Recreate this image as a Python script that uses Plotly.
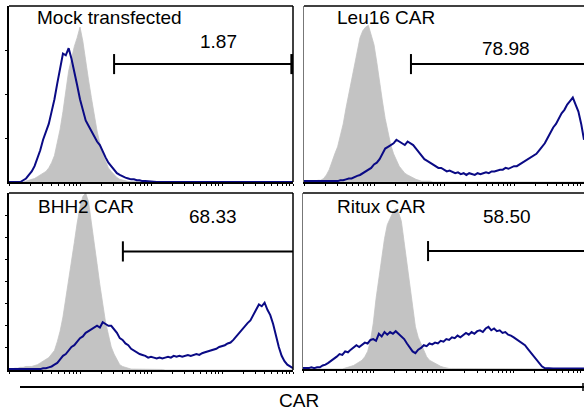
import math
import plotly.graph_objects as go

# ---------------- data (x = channel position in % of axis, y = % of max) -------------
x_pos = list(range(0, 101))

panel_titles = ["Mock transfected", "Leu16 CAR", "BHH2 CAR", "Ritux CAR"]
gate_values = ["1.87", "78.98", "68.33", "58.50"]
gate_start = [37, 38.2, 40.1, 44.5]

control_mock = [0, 0, 0, 0, 0, 0, 0.5, 1, 1.5, 2,
                3, 4, 5, 6, 8, 11, 15, 22, 30, 40,
                52, 63, 70, 77, 82, 88, 80, 68, 58, 48,
                38, 29, 22, 16, 12, 8, 6, 4, 2.5, 1.5,
                1, 0.5, 0.3, 0.3, 0.3, 0.3, 0.3, 0, 0, 0] + [0] * 51
car_mock = [0, 0, 0, 0, 0, 1, 2, 4, 6, 9,
            13, 18, 24, 28, 33, 40, 47, 56, 64, 73,
            72, 76, 70, 63, 55, 47, 41, 35, 32, 29,
            26, 23, 21, 17, 14, 11, 9, 7, 5, 4,
            3, 2.5, 2, 1.5, 1.5, 1, 1, 0.5, 0.5, 0.3,
            0.3] + [0] * 50

control_leu16 = [0, 0, 0.5, 0.5, 0.5, 1, 1, 2, 4, 7,
                 12, 16, 20, 27, 33, 42, 50, 58, 66, 74,
                 82, 86, 88, 89, 84, 78, 68, 56, 46, 36,
                 28, 21, 16, 12, 9, 7, 5, 4, 3, 2,
                 1.5, 1, 0.5, 0.5, 0.5, 0.5, 0, 0, 0, 0] + [0] * 51
car_leu16 = [0.5, 0.5, 0.5, 0.5, 0.5, 0.5, 0.5, 0.5, 0.5, 0.5,
             0.5, 0.5, 0.5, 1, 1, 1.5, 2, 2, 3, 3.5,
             4, 5, 6, 7, 8, 10, 11, 13, 16, 19,
             20, 21, 22, 24, 23, 22, 21, 23, 22, 21,
             19, 17, 15, 13, 12, 11, 10, 9, 8, 8,
             7, 6, 6.5, 5.5, 5, 5.5, 4.5, 5, 4, 5,
             4.5, 4, 5, 4.5, 5, 5.5, 5, 6, 6, 6.5,
             7, 7, 8, 7.5, 8.5, 9, 9, 10, 11, 12,
             13, 14, 15, 16, 18, 20, 22, 25, 28, 31,
             33, 36, 39, 41, 44, 46, 48, 44, 40, 33, 24]

control_bhh2 = [0, 0, 1, 1, 1.5, 1.5, 2, 2, 2, 2.5,
                3, 4, 5, 6, 7, 9, 11, 16, 22, 30,
                40, 50, 60, 72, 83, 92, 98, 100, 95, 84,
                72, 60, 48, 36, 27, 20, 13, 9, 6, 3,
                2, 1.5, 1, 0.5, 0.5, 0.5, 0.5, 0.5, 0.5, 0.5,
                0.5, 0.3, 0.3, 0.3, 0.3, 0, 0, 0, 0, 0] + [0] * 41
car_bhh2 = [0.5, 0.5, 0.5, 0.5, 0.5, 0.5, 0.5, 0.5, 0.5, 0.5,
            0.5, 0.5, 1, 1, 1.5, 2, 3, 4, 6, 8,
            9, 11, 13, 14, 16, 18, 19, 21, 22, 23,
            24, 25, 24, 27, 26, 25, 25, 23, 21, 18,
            17, 15, 14, 12, 11, 10, 9, 8.5, 8, 7,
            7.5, 7, 6.5, 7, 6.5, 7, 7.5, 7, 8, 7.5,
            8, 7.5, 8, 8.5, 8, 8.5, 9, 8.5, 9.5, 10,
            10.5, 11, 11.5, 12, 13, 13.5, 14, 15, 15.5, 17,
            19, 21, 23, 25, 26.5, 28, 31, 34, 37, 36,
            38, 34, 31, 26, 19, 13, 8, 5, 3, 2, 1]

control_ritux = [0] * 10 + [0, 0, 0, 0, 0, 0.5, 1, 1.5, 2, 3,
                            4, 5, 7, 10, 16, 26, 40, 52, 62, 74,
                            82, 86, 89, 91, 89, 84, 72, 58, 45, 33,
                            24, 18, 14, 11, 7, 5, 4, 3, 2, 1.5,
                            1, 0.5, 0.3, 0.3, 0.3, 0.3, 0.3, 0, 0, 0] + [0] * 41
car_ritux = [0.5, 0.5, 0.5, 1, 0.5, 1, 1, 2, 2.5, 3.5,
             4.5, 6, 7, 8.5, 8, 10, 9.5, 11, 12, 13.5,
             12.5, 14, 15, 14.5, 16.5, 17, 16, 20, 18.5, 21,
             19.5, 21, 20, 21.5, 20, 18, 17, 14.5, 12, 10,
             9, 11, 12, 13.5, 13, 14.5, 14, 15, 14.5, 16,
             15.5, 17, 16.5, 18, 17.5, 19, 18, 19.5, 20.5, 19.5,
             21, 20, 21.5, 22, 21, 23, 24, 22, 23, 21.5,
             22, 20.5, 21, 19.5, 19, 18, 17, 16, 15, 13.5,
             11.5, 9.5, 7.5, 5, 3, 1.5, 0.5, 0.3, 0.3, 0.3,
             0.3, 0.3, 0.3, 0.3, 0.3, 0.3, 0.3, 0.3, 0.3, 0.3, 0.3]

controls = [control_mock, control_leu16, control_bhh2, control_ritux]
cars = [car_mock, car_leu16, car_bhh2, car_ritux]

# ---------------- layout geometry (pixels of a 584x416 canvas) ----------------
W, H = 584, 416
FONT = "Liberation Sans, Arial, sans-serif"
GRAY = "#c3c3c3"
NAVY = "#0a0a85"

# (left, right, top, bottom) in pixels
boxes = [(9, 293, 6, 182), (304, 584, 6, 182), (9, 293, 193, 370), (303, 584, 193, 369)]
title_pos = [(35, 18), (335, 18), (36, 206), (335, 206)]
value_pos = [(218, 42), (506, 48), (213, 216), (507, 216)]
gate_y = 67

fig = go.Figure()
layout = dict(width=W, height=H, margin=dict(l=0, r=0, t=0, b=0),
              paper_bgcolor="white", plot_bgcolor="white", showlegend=False)

# log-like minor tick positions along the x axis (4 decades)
xtick_vals = []
for d in range(4):
    for k in range(1, 10):
        xtick_vals.append(d * 25 + 25 * math.log10(k))
xtick_vals.append(100)

shapes = []
annotations = []
for i in range(4):
    n = "" if i == 0 else str(i + 1)
    xa, ya = "x" + n, "y" + n
    l, r, t, b = boxes[i]
    left_side = i in (0, 2)
    layout["xaxis" + n] = dict(domain=[l / W, r / W], range=[0, 100], showgrid=False,
                               zeroline=False, showline=True, linecolor="black", linewidth=2,
                               ticks="outside", ticklen=2, tickwidth=1, tickcolor="black",
                               tickvals=xtick_vals, showticklabels=False,
                               anchor=ya, fixedrange=True)
    layout["yaxis" + n] = dict(domain=[1 - b / H, 1 - t / H], range=[0, 100], showgrid=False,
                               zeroline=False, showline=True,
                               linecolor="black" if left_side else "#777777",
                               linewidth=2 if left_side else 1,
                               ticks="outside" if left_side else "", ticklen=2, tickwidth=1,
                               tickcolor="black",
                               tickvals=[25, 50, 75] if i == 0 else [12.5, 25, 37.5, 50, 62.5, 75, 87.5],
                               showticklabels=False, anchor=xa, fixedrange=True)

    fig.add_trace(go.Scatter(x=x_pos, y=controls[i], xaxis=xa, yaxis=ya, mode="lines",
                             line=dict(width=0.8, shape="linear", color=GRAY), fill="tozeroy",
                             fillcolor=GRAY, hoverinfo="skip"))
    fig.add_trace(go.Scatter(x=x_pos, y=cars[i], xaxis=xa, yaxis=ya, mode="lines",
                             line=dict(width=2, shape="linear", color=NAVY), hoverinfo="skip"))

    # top border (and right border for left panels)
    shapes.append(dict(type="line", xref="paper", yref="paper", x0=l / W, x1=r / W,
                       y0=1 - t / H, y1=1 - t / H, line=dict(color="black", width=1.5)))
    if left_side:
        shapes.append(dict(type="line", xref="paper", yref="paper", x0=r / W, x1=r / W,
                           y0=1 - b / H, y1=1 - t / H, line=dict(color="black", width=1.5)))

    # gate bar
    shapes.append(dict(type="line", xref=xa, yref=ya, x0=gate_start[i], x1=100,
                       y0=gate_y, y1=gate_y, line=dict(color="black", width=2)))
    shapes.append(dict(type="line", xref=xa, yref=ya, x0=gate_start[i], x1=gate_start[i],
                       y0=gate_y - 5.7, y1=gate_y + 5.7, line=dict(color="black", width=2)))
    if i == 0:
        shapes.append(dict(type="line", xref=xa, yref=ya, x0=99.6, x1=99.6,
                           y0=gate_y - 5.7, y1=gate_y + 5.7, line=dict(color="black", width=3)))

    annotations.append(dict(text=panel_titles[i], xref="paper", yref="paper",
                            x=title_pos[i][0] / W, y=1 - title_pos[i][1] / H,
                            xanchor="left", yanchor="middle", showarrow=False,
                            font=dict(family=FONT, size=19, color="black")))
    annotations.append(dict(text=gate_values[i], xref="paper", yref="paper",
                            x=value_pos[i][0] / W, y=1 - value_pos[i][1] / H,
                            xanchor="center", yanchor="middle", showarrow=False,
                            font=dict(family=FONT, size=19, color="black")))

# common x-axis line + label
shapes.append(dict(type="line", xref="paper", yref="paper", x0=20 / W, x1=1,
                   y0=1 - 387 / H, y1=1 - 387 / H, line=dict(color="black", width=2)))
shapes.append(dict(type="line", xref="paper", yref="paper", x0=583 / W, x1=583 / W,
                   y0=1 - 383 / H, y1=1 - 391 / H, line=dict(color="black", width=1.5)))
annotations.append(dict(text="CAR", xref="paper", yref="paper", x=299 / W, y=1 - 400 / H,
                        xanchor="center", yanchor="middle", showarrow=False,
                        font=dict(family=FONT, size=19, color="black")))

layout["shapes"] = shapes
layout["annotations"] = annotations
fig.update_layout(**layout)
fig.write_html("out.html")
